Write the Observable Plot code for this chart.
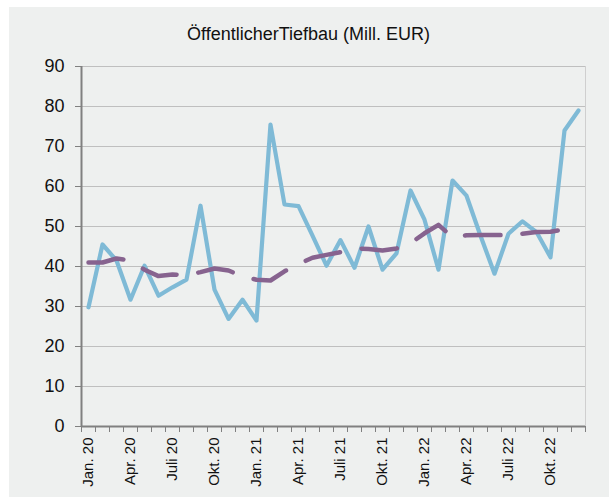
<!DOCTYPE html>
<html>
<head>
<meta charset="utf-8">
<script src="https://cdn.jsdelivr.net/npm/d3@7"></script>
<script src="https://cdn.jsdelivr.net/npm/@observablehq/plot@0.6"></script>
<style>
  html, body { margin: 0; padding: 0; background: #ffffff; }
  body { width: 609px; height: 497px; position: relative; overflow: hidden; font-family: "Liberation Sans", Arial, sans-serif; }
  #panel { position: absolute; left: 9px; top: 7px; width: 600px; height: 490px; background: #eef0ef; }
  #title { position: absolute; left: 9px; width: 599px; top: 23px; text-align: center; font-size: 18px; line-height: 22px; color: #111; }
  #chart { position: absolute; left: 9px; top: 50px; }
</style>
</head>
<body>
<div id="panel"></div>
<div id="title">ÖffentlicherTiefbau (Mill. EUR)</div>
<div id="chart"></div>
<script>
const title = "ÖffentlicherTiefbau (Mill. EUR)";
const months = [
  "Jan. 20","Feb. 20","März 20","Apr. 20","Mai 20","Juni 20","Juli 20","Aug. 20","Sep. 20","Okt. 20","Nov. 20","Dez. 20",
  "Jan. 21","Feb. 21","März 21","Apr. 21","Mai 21","Juni 21","Juli 21","Aug. 21","Sep. 21","Okt. 21","Nov. 21","Dez. 21",
  "Jan. 22","Feb. 22","März 22","Apr. 22","Mai 22","Juni 22","Juli 22","Aug. 22","Sep. 22","Okt. 22","Nov. 22","Dez. 22"
];
const tickLabels = ["Jan. 20","Apr. 20","Juli 20","Okt. 20","Jan. 21","Apr. 21","Juli 21","Okt. 21","Jan. 22","Apr. 22","Juli 22","Okt. 22"];
const yTicks = [0, 10, 20, 30, 40, 50, 60, 70, 80, 90];
const monthly = [29.8, 45.5, 41.5, 31.7, 40.2, 32.7, 34.8, 36.7, 55.2, 34.2, 26.9, 31.7,
                 26.5, 75.5, 55.5, 55.1, 47.7, 40.2, 46.6, 39.7, 50.0, 39.2, 43.3, 59.0,
                 51.7, 39.2, 61.5, 57.7, 47.7, 38.2, 48.2, 51.3, 48.6, 42.3, 74.0, 79.0];
const average = [41.0, 41.0, 42.0, 41.5, 39.2, 37.6, 38.0, 37.8, 38.6, 39.5, 39.0, 37.5,
                 36.7, 36.5, 38.8, 40.6, 42.2, 42.9, 43.6, 44.5, 44.4, 44.0, 44.5, 45.8,
                 48.3, 50.4, 47.3, 47.8, 47.9, 47.9, 47.8, 48.2, 48.6, 48.7, 49.3, 49.9];

const n = months.length;
const boundaries = d3.range(-0.5, n, 1);
const labelIdx = tickLabels.map(l => months.indexOf(l));

const chart = Plot.plot({
  width: 600,
  height: 447,
  marginLeft: 72,
  marginRight: 24,
  marginTop: 16,
  marginBottom: 71,
  style: { background: "transparent", fontFamily: "'Liberation Sans', Arial, sans-serif", fontSize: "18px", color: "#111" },
  x: { type: "linear", domain: [-0.5, n - 0.5] },
  y: { domain: [0, 90] },
  marks: [
    Plot.ruleY(yTicks.filter(v => v > 0), { stroke: "#bfbfbf", strokeWidth: 1 }),
    Plot.ruleX([n - 0.5], { stroke: "#cfcfcf", strokeWidth: 1 }),
    Plot.axisY({ ticks: yTicks, tickSize: 6, tickPadding: 11, stroke: "#808080", fill: "#111", fontSize: 18, label: null }),
    Plot.axisX({ ticks: boundaries, tickSize: 6, tickFormat: () => "", stroke: "#808080", label: null }),
    Plot.text(labelIdx, { x: d => d, text: d => months[d], frameAnchor: "bottom", dy: 11, rotate: -90, textAnchor: "end", lineAnchor: "middle", fontSize: 15, fill: "#111" }),
    Plot.lineY(monthly, { x: (d, i) => i, y: d => d, stroke: "#7fbad6", strokeWidth: 4.2, strokeLinejoin: "round", strokeLinecap: "round" }),
    Plot.lineY(average, { x: (d, i) => i, y: d => d, stroke: "#87638f", strokeWidth: 4.5, strokeLinecap: "round", strokeLinejoin: "round", strokeDasharray: "35.5,22" }),
    Plot.ruleX([-0.5], { stroke: "#808080", strokeWidth: 2 }),
    Plot.ruleY([0], { stroke: "#808080", strokeWidth: 2 })
  ]
});
document.getElementById("chart").appendChild(chart);
</script>
</body>
</html>
